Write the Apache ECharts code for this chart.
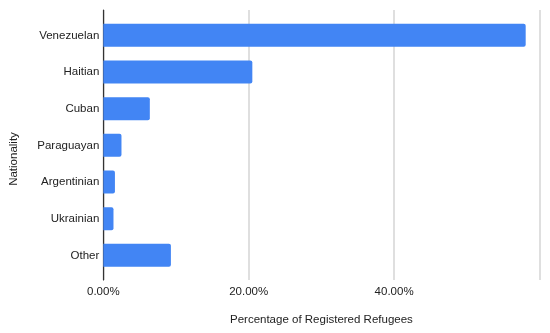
<!DOCTYPE html>
<html>
<head>
<meta charset="utf-8">
<script src="https://cdn.jsdelivr.net/npm/echarts@6/dist/echarts.min.js"></script>
<style>html,body{margin:0;padding:0;background:#fff}#c{width:550px;height:333px}</style>
</head>
<body>
<div id="c"></div>
<script>
const categories = ['Venezuelan', 'Haitian', 'Cuban', 'Paraguayan', 'Argentinian', 'Ukrainian', 'Other'];
const percentages = [58.1, 20.5, 6.4, 2.5, 1.6, 1.4, 9.3];
const tickValues = [0, 20, 40, 60];
const tickLabels = ['0.00%', '20.00%', '40.00%', ''];
const xTitle = 'Percentage of Registered Refugees';
const yTitle = 'Nationality';

const FONT = 'Arial, "Liberation Sans", Helvetica, sans-serif';
const chart = echarts.init(document.getElementById('c'));
chart.setOption({
  animation: false,
  textStyle: { fontFamily: FONT },
  grid: [
    { left: 103.3, right: 10.5, top: 17, height: 256.7 },
    { left: 103.3, right: 10.5, top: 10, height: 270 }
  ],
  xAxis: [
    { gridIndex: 0, type: 'value', min: 0, max: 60, interval: 20,
      axisLine: { show: false }, axisTick: { show: false }, axisLabel: { show: false }, splitLine: { show: false } },
    { gridIndex: 1, type: 'value', min: 0, max: 60, interval: 20,
      axisLine: { show: false }, axisTick: { show: false },
      splitLine: { show: true, lineStyle: { color: '#d4d4d4', width: 1.5 } },
      axisLabel: { margin: 6, fontSize: 11.5, color: '#222', fontFamily: FONT,
        formatter: v => tickLabels[tickValues.indexOf(v)] ?? '' },
      name: xTitle, nameLocation: 'middle', nameGap: 34,
      nameTextStyle: { fontSize: 11.5, color: '#222', fontFamily: FONT } }
  ],
  yAxis: [
    { gridIndex: 0, type: 'category', data: categories, inverse: true,
      axisLine: { show: false }, axisTick: { show: false }, splitLine: { show: false },
      axisLabel: { margin: 4, fontSize: 11.5, color: '#222', fontFamily: FONT } },
    { gridIndex: 1, type: 'value', min: 0, max: 1,
      axisLine: { show: true, lineStyle: { color: '#333333', width: 1.2 } },
      axisTick: { show: false }, axisLabel: { show: false }, splitLine: { show: false } }
  ],
  graphic: [
    { type: 'text', x: 14, y: 159, rotation: Math.PI / 2,
      style: { text: yTitle, fontSize: 11.5, fill: '#222', fontFamily: FONT,
        align: 'center', verticalAlign: 'middle' } }
  ],
  series: [
    { type: 'bar', xAxisIndex: 0, yAxisIndex: 0, data: percentages, barWidth: 23,
      itemStyle: { color: '#4285f4', borderRadius: [0, 2, 2, 0] }, z: 3 }
  ]
});
</script>
</body>
</html>
